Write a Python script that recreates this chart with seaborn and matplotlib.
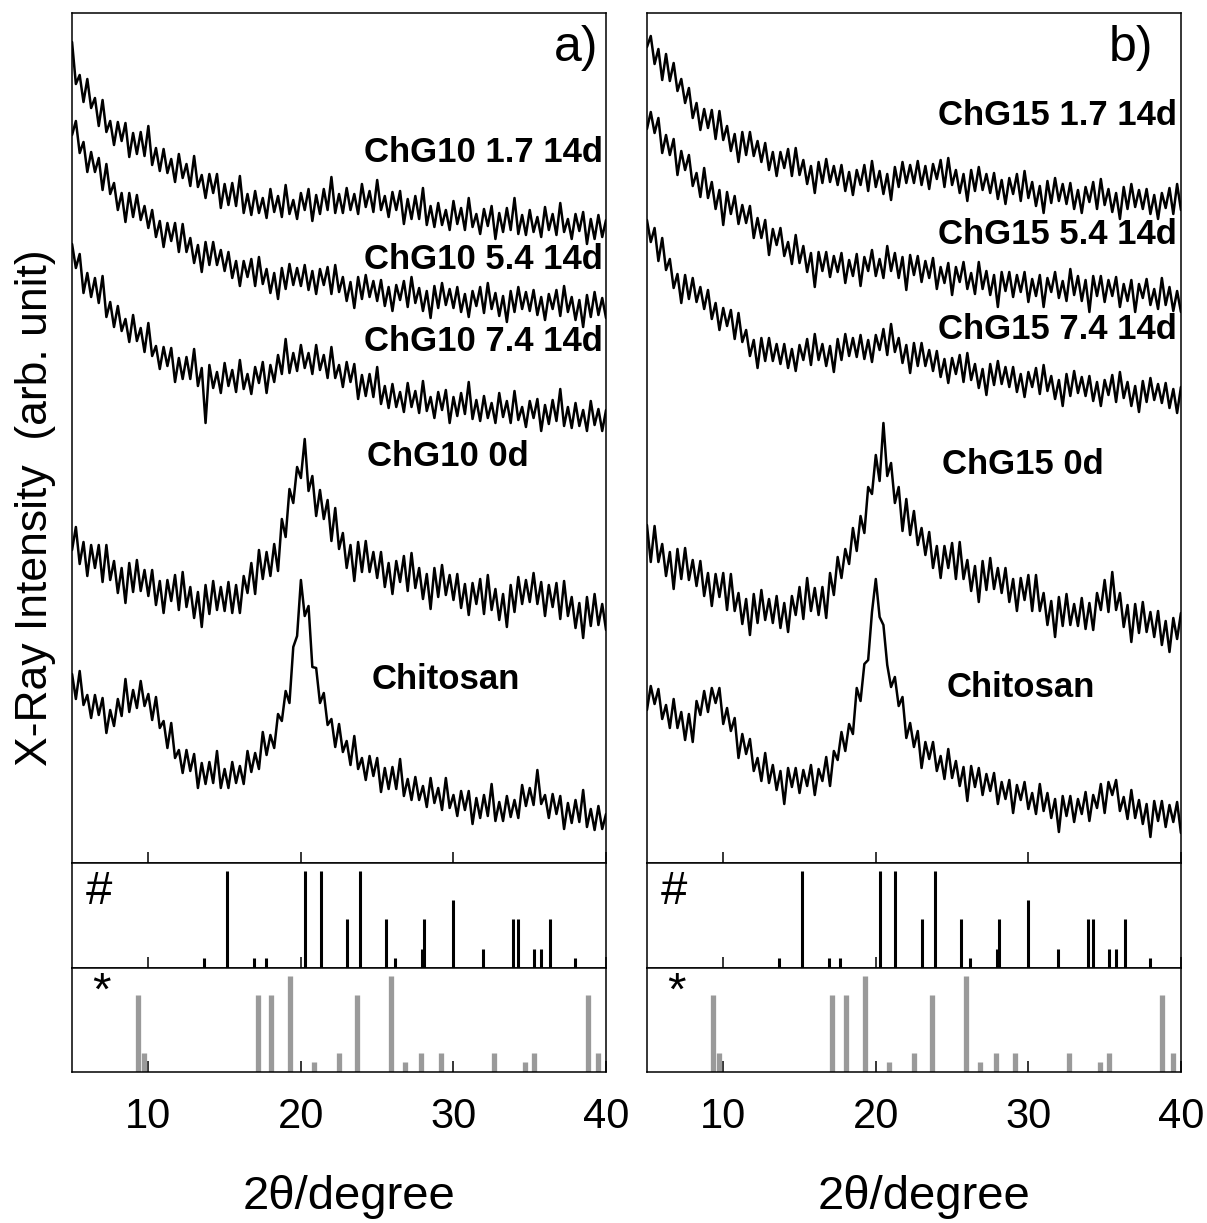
import numpy as np
import matplotlib
matplotlib.use("Agg")
import matplotlib.pyplot as plt
import seaborn as sns

# scan grid, 5-40 deg 2theta, 0.25 deg step (141 points)
two_theta = np.linspace(5, 40, 141)

# ---- panel a) traces (intensity, arb. units, already stacked) ----
chg10_17_14d = [
    821, 779, 788, 761, 784, 755, 765, 737,
    763, 731, 742, 718, 741, 722, 740, 706,
    730, 709, 731, 707, 737, 698, 715, 692,
    714, 690, 704, 681, 709, 685, 699, 677,
    707, 676, 688, 665, 689, 670, 689, 655,
    679, 658, 680, 657, 687, 650, 669, 648,
    672, 650, 665, 645, 674, 651, 667, 646,
    678, 649, 663, 644, 670, 653, 674, 642,
    668, 649, 674, 653, 686, 650, 669, 650,
    675, 653, 669, 649, 679, 656, 672, 651,
    683, 653, 667, 646, 671, 653, 672, 639,
    664, 644, 667, 644, 675, 638, 657, 636,
    660, 638, 653, 633, 662, 639, 655, 633,
    665, 636, 649, 629, 654, 637, 657, 624,
    650, 631, 655, 633, 665, 629, 648, 628,
    653, 631, 646, 626, 656, 633, 649, 628,
    660, 631, 644, 624, 649, 632, 651, 619,
    644, 624, 648, 626, 643]
chg10_54_14d = [
    728, 742, 710, 721, 691, 711, 691, 705,
    673, 699, 669, 680, 653, 670, 641, 670,
    646, 668, 643, 657, 635, 653, 626, 642,
    616, 640, 622, 640, 611, 639, 611, 625,
    600, 618, 591, 621, 598, 621, 598, 613,
    592, 611, 585, 602, 577, 602, 586, 604,
    577, 606, 579, 594, 570, 590, 564, 595,
    574, 599, 578, 595, 577, 598, 573, 592,
    569, 594, 578, 596, 569, 598, 571, 586,
    562, 581, 555, 586, 564, 588, 566, 582,
    562, 583, 557, 576, 552, 578, 563, 582,
    556, 586, 560, 575, 552, 572, 545, 577,
    555, 580, 558, 574, 555, 576, 551, 569,
    546, 572, 557, 576, 550, 580, 554, 570,
    547, 567, 541, 572, 551, 576, 554, 571,
    552, 573, 548, 566, 543, 569, 554, 573,
    547, 577, 551, 566, 543, 563, 536, 568,
    546, 571, 548, 565, 545]
chg10_74_14d = [
    619, 595, 609, 570, 590, 566, 585, 560,
    587, 546, 561, 536, 557, 532, 544, 521,
    548, 522, 535, 511, 540, 507, 517, 494,
    516, 497, 515, 481, 505, 484, 506, 484,
    514, 477, 495, 440, 498, 475, 491, 470,
    500, 477, 493, 471, 503, 474, 489, 469,
    496, 480, 501, 470, 498, 481, 508, 489,
    524, 490, 510, 492, 518, 495, 510, 489,
    518, 493, 508, 485, 516, 485, 498, 476,
    501, 481, 499, 464, 488, 467, 489, 466,
    496, 459, 477, 455, 479, 456, 471, 451,
    480, 456, 472, 450, 482, 452, 466, 445,
    471, 453, 473, 440, 466, 447, 470, 449,
    481, 444, 463, 442, 467, 445, 460, 440,
    470, 446, 462, 440, 472, 443, 456, 436,
    462, 445, 464, 432, 458, 439, 463, 442,
    474, 437, 456, 435, 460, 437, 453, 432,
    462, 438, 454, 432, 453]
chg10_0d = [
    313, 336, 299, 321, 287, 318, 295, 318,
    281, 318, 283, 302, 270, 295, 260, 300,
    271, 303, 272, 293, 267, 293, 258, 282,
    250, 283, 262, 288, 253, 291, 256, 276,
    245, 271, 236, 278, 249, 282, 253, 276,
    252, 281, 250, 278, 250, 287, 270, 300,
    269, 313, 284, 311, 287, 319, 292, 344,
    326, 374, 360, 396, 385, 424, 372, 387,
    347, 373, 344, 363, 322, 355, 314, 330,
    295, 318, 282, 321, 291, 322, 291, 311,
    285, 311, 276, 300, 269, 302, 281, 307,
    272, 310, 275, 295, 264, 289, 254, 295,
    266, 298, 268, 288, 263, 289, 255, 279,
    248, 280, 259, 284, 249, 288, 253, 274,
    243, 269, 236, 278, 251, 286, 259, 283,
    261, 290, 259, 281, 247, 278, 256, 280,
    244, 282, 247, 266, 235, 260, 225, 266,
    237, 269, 238, 259, 233]
chitosan_a = [
    189, 164, 192, 158, 168, 145, 168, 148,
    165, 130, 153, 137, 164, 147, 184, 151,
    173, 155, 182, 157, 169, 143, 166, 135,
    142, 115, 140, 105, 113, 90, 113, 92,
    109, 75, 100, 79, 101, 80, 112, 75,
    94, 75, 101, 80, 97, 79, 112, 91,
    110, 94, 131, 108, 128, 115, 149, 142,
    172, 160, 216, 227, 283, 247, 257, 196,
    195, 160, 170, 138, 144, 116, 139, 111,
    122, 98, 127, 94, 105, 83, 107, 87,
    105, 71, 95, 74, 96, 74, 104, 67,
    84, 63, 86, 63, 77, 56, 85, 60,
    75, 53, 85, 55, 68, 47, 72, 53,
    72, 39, 65, 45, 68, 47, 79, 42,
    61, 42, 67, 46, 63, 45, 78, 57,
    75, 58, 93, 59, 68, 45, 69, 49,
    67, 34, 60, 40, 63, 41, 73, 36,
    54, 33, 57, 34, 49]

# ---- panel b) traces ----
chg15_17_14d = [
    816, 827, 799, 814, 783, 809, 782, 800,
    772, 784, 760, 775, 745, 760, 733, 754,
    735, 753, 724, 752, 723, 737, 712, 729,
    701, 731, 708, 731, 707, 722, 701, 720,
    693, 711, 687, 711, 695, 714, 687, 715,
    688, 703, 679, 697, 670, 701, 680, 704,
    681, 697, 678, 698, 672, 691, 668, 693,
    678, 698, 672, 702, 676, 692, 669, 689,
    663, 696, 676, 701, 680, 698, 680, 702,
    678, 697, 674, 699, 684, 703, 676, 705,
    678, 693, 670, 689, 662, 693, 672, 696,
    673, 689, 670, 690, 664, 683, 659, 685,
    669, 689, 662, 692, 665, 681, 657, 677,
    650, 682, 660, 685, 662, 679, 659, 680,
    654, 673, 650, 676, 661, 681, 654, 684,
    658, 674, 651, 670, 644, 676, 654, 679,
    656, 673, 654, 674, 649, 668, 644, 670,
    655, 675, 649, 679, 653]
chg15_54_14d = [
    734, 751, 730, 745, 710, 728, 708, 724,
    688, 712, 693, 708, 677, 690, 666, 695,
    665, 681, 654, 673, 638, 671, 649, 667,
    639, 658, 640, 657, 625, 645, 625, 643,
    608, 634, 618, 635, 607, 621, 599, 628,
    600, 617, 591, 610, 576, 611, 592, 611,
    586, 607, 591, 610, 580, 603, 587, 609,
    577, 606, 592, 613, 587, 604, 585, 617,
    592, 610, 585, 606, 573, 608, 588, 607,
    581, 602, 585, 605, 574, 596, 580, 600,
    568, 596, 581, 601, 574, 590, 569, 601,
    574, 592, 568, 588, 556, 591, 572, 591,
    566, 588, 571, 591, 561, 584, 567, 588,
    556, 585, 571, 591, 565, 582, 562, 594,
    568, 587, 562, 583, 551, 587, 567, 587,
    561, 583, 567, 586, 556, 579, 562, 583,
    551, 579, 565, 584, 558, 574, 554, 585,
    558, 576, 552, 572, 551]
chg15_74_14d = [
    643, 621, 635, 602, 625, 593, 604, 575,
    589, 560, 588, 564, 585, 561, 576, 554,
    573, 544, 560, 533, 555, 537, 553, 524,
    550, 521, 533, 507, 523, 495, 525, 502,
    525, 502, 519, 499, 519, 495, 514, 492,
    518, 503, 524, 498, 529, 503, 519, 497,
    517, 491, 524, 503, 529, 507, 525, 506,
    528, 504, 523, 501, 528, 513, 534, 508,
    539, 511, 525, 500, 518, 490, 520, 497,
    520, 497, 513, 492, 512, 486, 504, 480,
    505, 489, 508, 481, 510, 483, 499, 475,
    494, 468, 499, 478, 502, 479, 496, 476,
    496, 471, 489, 466, 491, 476, 495, 469,
    498, 472, 487, 464, 483, 457, 489, 467,
    492, 470, 486, 467, 487, 462, 481, 457,
    483, 468, 488, 461, 491, 465, 481, 457,
    477, 451, 482, 461, 485, 463, 479, 460,
    480, 455, 474, 450, 476]
chg15_0d = [
    338, 301, 337, 301, 319, 287, 311, 274,
    314, 284, 315, 283, 303, 277, 302, 267,
    290, 257, 289, 266, 290, 253, 289, 252,
    270, 239, 264, 228, 269, 240, 273, 243,
    264, 240, 267, 235, 260, 231, 267, 248,
    276, 244, 285, 252, 275, 248, 276, 245,
    290, 268, 306, 285, 314, 299, 335, 312,
    347, 330, 376, 369, 408, 382, 440, 387,
    400, 360, 376, 332, 364, 328, 352, 318,
    335, 308, 331, 295, 317, 285, 317, 295,
    320, 284, 321, 284, 303, 272, 297, 261,
    302, 273, 305, 274, 295, 270, 295, 261,
    284, 252, 285, 263, 288, 252, 288, 252,
    270, 238, 262, 226, 266, 237, 269, 238,
    259, 237, 265, 234, 260, 233, 270, 253,
    283, 251, 291, 253, 270, 236, 258, 221,
    259, 230, 261, 231, 251, 226, 252, 218,
    242, 211, 245, 224, 250]
chitosan_b = [
    153, 177, 159, 174, 144, 158, 135, 164,
    135, 151, 123, 149, 121, 162, 148, 172,
    151, 175, 160, 175, 139, 155, 132, 145,
    105, 129, 109, 124, 92, 105, 82, 110,
    80, 98, 73, 92, 59, 95, 76, 95,
    70, 93, 77, 98, 68, 94, 82, 106,
    77, 112, 103, 131, 112, 139, 129, 175,
    162, 199, 203, 251, 284, 246, 238, 198,
    176, 186, 157, 166, 125, 140, 116, 132,
    95, 121, 104, 121, 92, 107, 84, 114,
    85, 102, 77, 96, 62, 97, 76, 95,
    68, 89, 72, 90, 59, 81, 64, 83,
    50, 78, 63, 81, 54, 70, 49, 79,
    52, 70, 45, 64, 31, 67, 47, 67,
    41, 64, 49, 71, 42, 68, 55, 79,
    50, 81, 68, 83, 52, 66, 44, 73,
    45, 63, 39, 59, 26, 62, 42, 62,
    36, 58, 41, 61, 30]

# ---- reference patterns (stick positions, relative intensity) ----
hash_pos = [13.63, 15.16, 16.95, 17.68, 20.30, 21.29, 23.02, 23.87, 25.56, 26.19,
            27.95, 28.10, 29.95, 31.94, 33.93, 34.23, 35.29, 35.76, 36.35, 37.95]
hash_int = [10, 100, 10, 10, 100, 100, 50, 100, 50, 10,
            20, 50, 70, 20, 50, 50, 20, 20, 50, 10]
star_pos = [9.30, 9.72, 17.16, 18.02, 19.27, 20.87, 22.49, 23.67, 25.88,
            26.80, 27.87, 29.15, 32.66, 34.72, 35.30, 38.79, 39.50]
star_int = [80, 20, 80, 80, 100, 10, 20, 80, 100,
            10, 20, 20, 20, 10, 20, 80, 20]

labels_a = ["ChG10 1.7 14d", "ChG10 5.4 14d", "ChG10 7.4 14d", "ChG10 0d", "Chitosan"]
labels_b = ["ChG15 1.7 14d", "ChG15 5.4 14d", "ChG15 7.4 14d", "ChG15 0d", "Chitosan"]

sns.set_style("ticks", {"axes.edgecolor": "black", "text.color": "black",
                        "xtick.color": "black", "axes.labelcolor": "black"})
plt.rcParams['font.family'] = ['Liberation Sans', 'DejaVu Sans']

fig = plt.figure(figsize=(12.07, 12.23), dpi=100)

columns = [
    (0.0597, "a)", 39.5, [chg10_17_14d, chg10_54_14d, chg10_74_14d, chg10_0d, chitosan_a], labels_a,
     [(39.8, 711, 'right'), (39.8, 603, 'right'), (39.8, 521, 'right'), (24.33, 406, 'left'), (24.66, 183, 'left')]),
    (0.5360, "b)", 38.2, [chg15_17_14d, chg15_54_14d, chg15_74_14d, chg15_0d, chitosan_b], labels_b,
     [(39.75, 748, 'right'), (39.75, 628, 'right'), (39.75, 533, 'right'), (24.37, 398, 'left'), (24.63, 175, 'left')]),
]
W = 0.4424

for left, tag, tag_x, traces, labels, label_pos in columns:
    ax = fig.add_axes([left, 0.29436, W, 0.69501])
    ax_h = fig.add_axes([left, 0.20850, W, 0.08585])
    ax_s = fig.add_axes([left, 0.12347, W, 0.08504])

    for y in traces:
        sns.lineplot(x=two_theta, y=y, ax=ax, color="black", lw=1.8,
                     estimator=None, sort=False, legend=False)
    for txt, (lx, ly, ha) in zip(labels, label_pos):
        ax.text(lx, ly, txt, ha=ha, va='center', fontsize=25, fontweight='bold')
    ax.text(tag_x, 815, tag, ha='right', va='center', fontsize=36)
    ax.set_ylim(0, 850)

    ax_h.vlines(hash_pos, 0, hash_int, color="black", lw=2.2)
    ax_h.set_ylim(0, 108)
    ax_h.text(0.05, 0.72, "#", transform=ax_h.transAxes, ha='center', va='center', fontsize=34)

    ax_s.vlines(star_pos, 0, star_int, color="#9a9a9a", lw=3.8)
    ax_s.set_ylim(0, 108)
    ax_s.text(0.055, 0.76, "*", transform=ax_s.transAxes, ha='center', va='center', fontsize=34)

    for a in (ax, ax_h, ax_s):
        a.set_xlim(5, 40)
        a.set_xticks([10, 20, 30, 40])
        a.set_yticks([])
        a.set_xlabel("")
        a.set_ylabel("")
        a.tick_params(axis='x', direction='in', length=8, width=1.1,
                      labelbottom=False, labelsize=30, pad=18)
        for s in a.spines.values():
            s.set_linewidth(1.1)
            s.set_color("black")
    ax_s.tick_params(axis='x', labelbottom=True)

    fig.text(left + W / 2 + 0.008, 0.021, "2\u03b8/degree", ha='center', va='center', fontsize=34)

fig.text(0.029, 0.585, "X-Ray Intensity  (arb. unit)", rotation=90,
         ha='center', va='center', fontsize=32)

fig.savefig("out.png", dpi=100)
